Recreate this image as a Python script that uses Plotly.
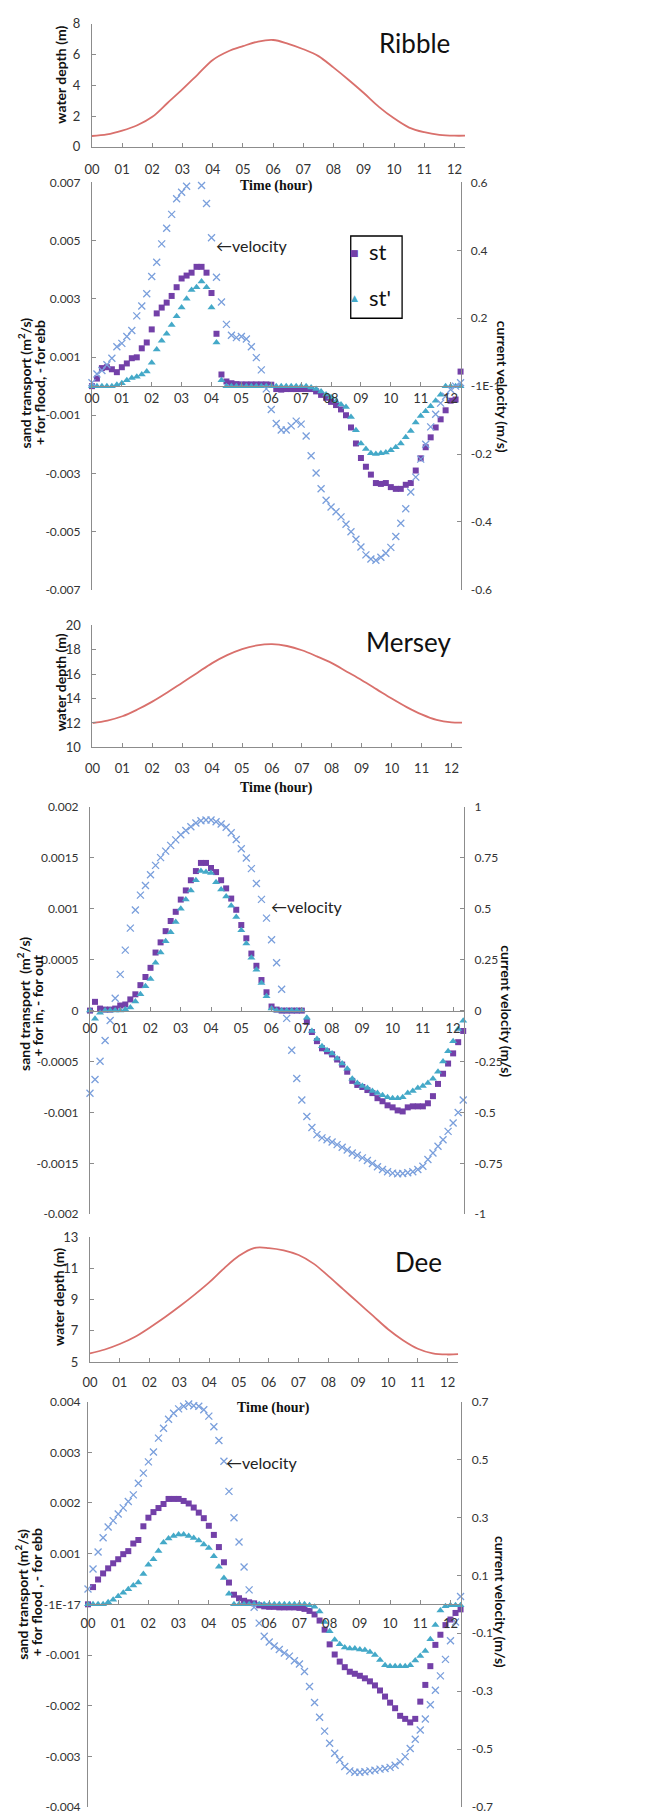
import plotly.graph_objects as go

W, H = 651, 1819

# ---------------- data ----------------
hours = [i / 6 for i in range(75)]          # 10-minute steps, 00:00 .. 12:20
depth_hours = [0, 0.5, 1, 1.5, 2, 2.5, 3, 3.5, 4, 4.5, 5, 5.5, 6, 6.5, 7, 7.5, 8,
               8.5, 9, 9.5, 10, 10.5, 11, 11.5, 12, 12.35]
hour_labels = ["00", "01", "02", "03", "04", "05", "06", "07", "08", "09", "10", "11", "12"]

ribble_depth = [0.7, 0.8, 1.05, 1.4, 1.95, 2.85, 3.75, 4.7, 5.65, 6.2, 6.55, 6.85, 6.95,
                6.7, 6.35, 5.9, 5.15, 4.35, 3.5, 2.6, 1.85, 1.25, 0.95, 0.78, 0.72, 0.72]
mersey_depth = [12.0, 12.2, 12.55, 13.1, 13.75, 14.5, 15.3, 16.1, 16.9, 17.55, 18.05, 18.35, 18.45,
                18.3, 17.95, 17.45, 16.9, 16.2, 15.5, 14.75, 14.0, 13.3, 12.7, 12.25, 12.05, 12.03]
dee_depth = [5.55, 5.8, 6.15, 6.6, 7.2, 7.85, 8.55, 9.3, 10.1, 11.0, 11.8, 12.3, 12.3,
             12.15, 11.85, 11.3, 10.5, 9.65, 8.8, 7.95, 7.1, 6.4, 5.85, 5.55, 5.48, 5.5]

ribble_st = [0, 0.00026, 0.00062, 0.00065, 0.00058, 0.00048, 0.00065, 0.00078, 0.00096, 0.00099,
             0.0013, 0.0015, 0.00195, 0.0025, 0.0027, 0.00287, 0.0031, 0.0034, 0.0037, 0.0038,
             0.0039, 0.0041, 0.0041, 0.0039, 0.0032, 0.0018, 0.0004, 0.00016, 0.0001, 0.00007,
             0.00006, 0.00006, 0.00006, 0.00006, 0.00006, 0.00006, 0.00005, -0.0001, -0.00012, -0.0001,
             -0.0001, -0.0001, -0.0001, -0.0001, -0.0001, -0.00018, -0.0003, -0.0004, -0.00054, -0.00065,
             -0.0008, -0.001, -0.00142, -0.00197, -0.00247, -0.00277, -0.00304, -0.00333, -0.00336, -0.00333,
             -0.00347, -0.00353, -0.00353, -0.00339, -0.00333, -0.0029, -0.00248, -0.0021, -0.00176, -0.00142,
             -0.00114, -0.00083, -0.0005, -0.00046, 0.0005]
ribble_st2 = [0, 0, 0, 0, 0, 0.00005, 0.0001, 0.0002, 0.00028, 0.00032,
              0.0004, 0.0005, 0.0008, 0.00126, 0.00156, 0.0018, 0.0021, 0.0024, 0.0027, 0.003,
              0.0033, 0.0034, 0.0036, 0.0034, 0.0027, 0.0015, 0.0002, 0, 0, 0,
              0, 0, 0, 0, 0, 0, 0, 0, 0, 0,
              0, 0, 0, 0, -0.00005, -0.0001, -0.00018, -0.00029, -0.00038, -0.00052,
              -0.00063, -0.00072, -0.00106, -0.00152, -0.00197, -0.00216, -0.00231, -0.00233, -0.00231, -0.00228,
              -0.0022, -0.0021, -0.00197, -0.00176, -0.00154, -0.00125, -0.00103, -0.00086, -0.00069, -0.0005,
              -0.0003, 0, 0, 0, 0]
ribble_vel = [0.01, 0.036, 0.046, 0.063, 0.082, 0.116, 0.126, 0.146, 0.164, 0.207,
              0.236, 0.272, 0.323, 0.365, 0.419, 0.465, 0.506, 0.552, 0.571, 0.589,
              None, None, 0.591, 0.538, 0.437, 0.321, 0.248, 0.182, 0.150, 0.143,
              0.146, 0.139, 0.116, 0.084, 0.048, -0.008, -0.069, -0.110, -0.129, -0.129,
              -0.117, -0.103, -0.112, -0.147, -0.205, -0.256, -0.302, -0.336, -0.356, -0.370,
              -0.385, -0.407, -0.429, -0.451, -0.474, -0.497, -0.509, -0.513, -0.504, -0.492,
              -0.475, -0.443, -0.404, -0.361, -0.312, -0.268, -0.215, -0.171, -0.120, -0.083,
              -0.05, -0.03, -0.01, 0.0, 0.01]

mersey_st = [0, 0.000086, 0.00002, 0.00001, 0.00001, 0.00002, 0.00005, 0.00006, 0.00011, 0.00016,
             0.00025, 0.00033, 0.00042, 0.00057, 0.00067, 0.00078, 0.00088, 0.00097, 0.00109, 0.00118,
             0.00128, 0.00137, 0.00145, 0.00145, 0.0014, 0.00136, 0.00128, 0.0012, 0.0011, 0.00099,
             0.00084, 0.00071, 0.00056, 0.00044, 0.0003, 0.00018, 0.00004, 0.00001, 0, 0,
             0, 0, 0, -0.00011, -0.00021, -0.0003, -0.00037, -0.0004, -0.00043, -0.00048,
             -0.00053, -0.0006, -0.00069, -0.00073, -0.00075, -0.00078, -0.00081, -0.00086, -0.00089, -0.00093,
             -0.00095, -0.00098, -0.00099, -0.00095, -0.00094, -0.00094, -0.00094, -0.00091, -0.00084, -0.00072,
             -0.00062, -0.00052, -0.00042, -0.00031, -0.0002]
mersey_st2 = [0, -0.00008, -0.00002, 0, 0, 0, 0, 0.00001, 0.00003, 0.00009,
              0.00016, 0.00024, 0.00031, 0.00047, 0.00057, 0.00068, 0.00077, 0.00087, 0.001, 0.00109,
              0.00118, 0.00128, 0.00137, 0.00136, 0.00135, 0.00126, 0.00119, 0.00112, 0.00103, 0.00092,
              0.00079, 0.00066, 0.00052, 0.0004, 0.00027, 0.00014, 0.00002, 0, 0, 0,
              0, 0, 0, -0.00007, -0.0002, -0.00028, -0.00035, -0.00039, -0.00042, -0.00047,
              -0.00052, -0.00057, -0.00067, -0.00071, -0.00074, -0.00076, -0.00079, -0.00081, -0.00083, -0.00085,
              -0.00086, -0.00086, -0.00085, -0.00081, -0.00079, -0.00076, -0.00074, -0.00071, -0.00067, -0.0006,
              -0.0005, -0.0004, -0.0003, -0.00018, -0.0001]
mersey_vel = [-0.406, -0.338, -0.249, -0.147, -0.049, 0.061, 0.178, 0.297, 0.405, 0.494,
              0.567, 0.614, 0.667, 0.713, 0.751, 0.783, 0.811, 0.838, 0.863, 0.884,
              0.903, 0.921, 0.932, 0.936, 0.936, 0.927, 0.916, 0.9, 0.873, 0.84,
              0.795, 0.749, 0.697, 0.624, 0.546, 0.454, 0.348, 0.235, 0.105, -0.038,
              -0.195, -0.333, -0.439, -0.52, -0.574, -0.609, -0.625, -0.634, -0.645, -0.658,
              -0.671, -0.684, -0.699, -0.71, -0.723, -0.736, -0.751, -0.767, -0.78, -0.791,
              -0.798, -0.801, -0.8, -0.796, -0.791, -0.78, -0.764, -0.731, -0.699, -0.666,
              -0.634, -0.593, -0.552, -0.5, -0.439]

dee_st = [0, 0.00034, 0.00049, 0.00061, 0.00071, 0.00081, 0.00089, 0.00099, 0.00105, 0.0012,
          0.00127, 0.00154, 0.00171, 0.00182, 0.0019, 0.00198, 0.00208, 0.00208, 0.00208, 0.00204,
          0.00199, 0.00191, 0.00181, 0.0017, 0.00155, 0.00137, 0.00113, 0.00083, 0.00043, 0.00019,
          0.00012, 0.00007, 0.00004, 0.00002, -0.00002, -0.00004, -0.00005, -0.00005, -0.00006, -0.00006,
          -0.00006, -0.00006, -0.00007, -0.00009, -0.00013, -0.0002, -0.00032, -0.0005, -0.00079, -0.00099,
          -0.00113, -0.00124, -0.00133, -0.00137, -0.00141, -0.00146, -0.00152, -0.0016, -0.0017, -0.00182,
          -0.00194, -0.00205, -0.0022, -0.00226, -0.00233, -0.00226, -0.00192, -0.00159, -0.00122, -0.0008,
          -0.0006, -0.00041, -0.0003, -0.00017, -0.0001]
dee_st2 = [0, 0, 0, 0, 0.00004, 0.00009, 0.00016, 0.00023, 0.0003, 0.00037,
           0.00043, 0.0006, 0.00078, 0.00089, 0.00105, 0.00122, 0.0013, 0.00135, 0.00138, 0.00138,
           0.00135, 0.00131, 0.00126, 0.00118, 0.00111, 0.00095, 0.00074, 0.00052, 0.00021, 0,
           0, 0, 0, 0, 0, 0, 0, 0, 0, 0,
           0, 0, 0, 0, -0.00002, -0.00005, -0.00014, -0.00035, -0.00053, -0.0007,
           -0.00079, -0.00085, -0.00087, -0.00087, -0.00089, -0.0009, -0.00094, -0.001, -0.0011, -0.0012,
           -0.00122, -0.00122, -0.00122, -0.00122, -0.0012, -0.00111, -0.00102, -0.00092, -0.00069, -0.00041,
           -0.00012, -0.00004, -0.00002, -0.00002, -0.00002]
dee_vel = [0.053, 0.122, 0.181, 0.23, 0.267, 0.289, 0.312, 0.333, 0.355, 0.378,
           0.418, 0.453, 0.492, 0.526, 0.574, 0.608, 0.639, 0.66, 0.675, 0.684,
           0.692, 0.686, 0.684, 0.672, 0.65, 0.613, 0.566, 0.494, 0.39, 0.299,
           0.215, 0.129, 0.05, -0.01, -0.065, -0.11, -0.13, -0.144, -0.156, -0.168,
           -0.179, -0.195, -0.206, -0.232, -0.284, -0.339, -0.39, -0.438, -0.48, -0.514,
           -0.537, -0.56, -0.575, -0.58, -0.58, -0.578, -0.575, -0.573, -0.569, -0.567,
           -0.563, -0.556, -0.544, -0.526, -0.498, -0.466, -0.434, -0.396, -0.347, -0.297,
           -0.247, -0.19, -0.126, -0.061, 0.027]

ribble_left_ticks = [0.007, 0.005, 0.003, 0.001, -0.001, -0.003, -0.005, -0.007]
ribble_left_text = ["0.007", "0.005", "0.003", "0.001", "-0.001", "-0.003", "-0.005", "-0.007"]
ribble_right_ticks = [0.6, 0.4, 0.2, 0, -0.2, -0.4, -0.6]
ribble_right_text = ["0.6", "0.4", "0.2", "-1E-1", "-0.2", "-0.4", "-0.6"]
mersey_left_ticks = [0.002, 0.0015, 0.001, 0.0005, 0, -0.0005, -0.001, -0.0015, -0.002]
mersey_left_text = ["0.002", "0.0015", "0.001", "0.0005", "0", "-0.0005", "-0.001", "-0.0015", "-0.002"]
mersey_right_ticks = [1, 0.75, 0.5, 0.25, 0, -0.25, -0.5, -0.75, -1]
mersey_right_text = ["1", "0.75", "0.5", "0.25", "0", "-0.25", "-0.5", "-0.75", "-1"]
dee_left_ticks = [0.004, 0.003, 0.002, 0.001, 0, -0.001, -0.002, -0.003, -0.004]
dee_left_text = ["0.004", "0.003", "0.002", "0.001", "-1E-17", "-0.001", "-0.002", "-0.003", "-0.004"]
dee_right_ticks = [0.7, 0.5, 0.3, 0.1, -0.1, -0.3, -0.5, -0.7]
dee_right_text = ["0.7", "0.5", "0.3", "0.1", "-0.1", "-0.3", "-0.5", "-0.7"]

legend_names = ["st", "st'"]

# ---------------- style ----------------
AX = "#8c8c8c"
TXT = "#333333"
DARK = "#111111"
DEPTH_C = "#d9706c"
ST_C = "#7340a8"
ST2_C = "#44a9c8"
VEL_C = "#7a9fdc"
SANS = "Lato, 'Open Sans', sans-serif"
SERIF = "'Liberation Serif', 'DejaVu Serif', serif"
TICKF = dict(family=SANS, size=12, color=TXT)


def fx(px):
    return px / W


def fy(py):
    return 1 - py / H


fig = go.Figure()


def xaxis(x0, x1, **kw):
    d = dict(domain=[fx(x0), fx(x1)], range=[0, 12.36], tickmode="array",
             tickvals=list(range(13)), ticktext=hour_labels, showline=True,
             linecolor=AX, linewidth=1, ticks="inside", ticklen=4, tickcolor=AX,
             showgrid=False, zeroline=False, tickfont=dict(family=SANS, size=13, color=TXT))
    d.update(kw)
    return d


def yaxis(y_top, y_bot, rng, tv, tt, **kw):
    d = dict(domain=[fy(y_bot), fy(y_top)], range=rng, tickmode="array",
             tickvals=tv, ticktext=tt, showline=True, linecolor=AX, linewidth=1,
             ticks="inside", ticklen=4, tickcolor=AX, showgrid=False,
             zeroline=False, tickfont=TICKF, ticklabelstandoff=8)
    d.update(kw)
    return d


layout = {}
# Panel 1: Ribble depth
layout["xaxis"] = xaxis(85, 463, anchor="y", ticklabelstandoff=11)
layout["yaxis"] = yaxis(16, 140, [0, 8], [0, 2, 4, 6, 8], ["0", "2", "4", "6", "8"], anchor="x",
                        tickfont=dict(family=SANS, size=13, color=TXT))
# Panel 2: Ribble transport
layout["xaxis2"] = xaxis(85, 459, anchor="free", position=fy(381.5), ticklabelstandoff=0)
layout["yaxis2"] = yaxis(176, 587, [-0.007, 0.007], ribble_left_ticks, ribble_left_text, anchor="x2")
layout["yaxis3"] = yaxis(176, 587, [-0.6, 0.6], ribble_right_ticks, ribble_right_text,
                         anchor="x2", overlaying="y2", side="right", ticklabelstandoff=6)
# Panel 3: Mersey depth
layout["xaxis3"] = xaxis(85.5, 460, anchor="y4", ticklabelstandoff=9)
layout["yaxis4"] = yaxis(622.7, 746, [10, 20], [10, 12, 14, 16, 18, 20],
                         ["10", "12", "14", "16", "18", "20"], anchor="x3",
                         tickfont=dict(family=SANS, size=13, color=TXT))
# Panel 4: Mersey transport
layout["xaxis4"] = xaxis(83, 461.7, anchor="free", position=fy(1011.5), ticklabelstandoff=6)
layout["yaxis5"] = yaxis(806, 1217, [-0.002, 0.002], mersey_left_ticks, mersey_left_text, anchor="x4")
layout["yaxis6"] = yaxis(806, 1217, [-1, 1], mersey_right_ticks, mersey_right_text,
                         anchor="x4", overlaying="y5", side="right", ticklabelstandoff=7)
# Panel 5: Dee depth
layout["xaxis5"] = xaxis(83, 456, anchor="y7", ticklabelstandoff=8)
layout["yaxis7"] = yaxis(1240, 1366, [5, 13], [5, 7, 9, 11, 13], ["5", "7", "9", "11", "13"], anchor="x5",
                         tickfont=dict(family=SANS, size=13, color=TXT))
# Panel 6: Dee transport
layout["xaxis6"] = xaxis(81, 459, anchor="free", position=fy(1610.5), ticklabelstandoff=7)
layout["yaxis8"] = yaxis(1406, 1815, [-0.004, 0.004], dee_left_ticks, dee_left_text, anchor="x6",
                         ticklabelstandoff=4)
layout["yaxis9"] = yaxis(1406, 1815, [-0.7, 0.7], dee_right_ticks, dee_right_text,
                         anchor="x6", overlaying="y8", side="right", ticklabelstandoff=7)


def depth_trace(y, xa, ya):
    fig.add_trace(go.Scatter(x=depth_hours, y=y, mode="lines", xaxis=xa, yaxis=ya,
                             line=dict(color=DEPTH_C, width=1.8, shape="spline"),
                             showlegend=False, hoverinfo="skip"))


def transport_traces(st, st2, vel, xa, ya_left, ya_right):
    fig.add_trace(go.Scatter(x=hours, y=st, mode="markers", name=legend_names[0], xaxis=xa, yaxis=ya_left,
                             marker=dict(symbol="square", size=6, color=ST_C),
                             showlegend=False, cliponaxis=False))
    fig.add_trace(go.Scatter(x=hours, y=st2, mode="markers", name=legend_names[1], xaxis=xa, yaxis=ya_left,
                             marker=dict(symbol="triangle-up", size=7, color=ST2_C),
                             showlegend=False, cliponaxis=False))
    fig.add_trace(go.Scatter(x=hours, y=vel, mode="markers", name="velocity", xaxis=xa, yaxis=ya_right,
                             marker=dict(symbol="x-thin", size=7, color=VEL_C,
                                         line=dict(width=1.3, color=VEL_C)),
                             showlegend=False, cliponaxis=False))


depth_trace(ribble_depth, "x", "y")
transport_traces(ribble_st, ribble_st2, ribble_vel, "x2", "y2", "y3")
depth_trace(mersey_depth, "x3", "y4")
transport_traces(mersey_st, mersey_st2, mersey_vel, "x4", "y5", "y6")
depth_trace(dee_depth, "x5", "y7")
transport_traces(dee_st, dee_st2, dee_vel, "x6", "y8", "y9")

ann = []


def text(s, x, y, size, family=SANS, bold=False, angle=0, xanchor="center", color=DARK):
    ann.append(dict(text=("<b>%s</b>" % s) if bold else s, x=fx(x), y=fy(y), xref="paper",
                    yref="paper", showarrow=False, textangle=angle, xanchor=xanchor,
                    yanchor="middle", font=dict(family=family, size=size, color=color)))


# panel titles
text("Ribble", 412, 35, 26)
text("Mersey", 406, 640, 26)
text("Dee", 416, 1265, 26)
# time axis titles
text("Time (hour)", 272, 180, 14, family=SERIF, bold=True)
text("Time (hour)", 272, 787, 14, family=SERIF, bold=True)
text("Time (hour)", 269, 1412, 14, family=SERIF, bold=True)
# depth axis titles
text("water depth (m)", 53, 67, 14, bold=True, angle=-90)
text("water depth (m)", 53, 680, 14, bold=True, angle=-90)
text("water depth (m)", 51, 1300, 14, bold=True, angle=-90)
# transport axis titles
text("sand transport (m<sup>2</sup>/s)", 17, 378, 14, bold=True, angle=-90)
text("+ for flood, - for ebb", 32, 378, 14, bold=True, angle=-90)
text("sand transport  (m<sup>2</sup>/s)", 15, 1005, 14, bold=True, angle=-90)
text("+ for in, - for out", 30, 1006, 14, bold=True, angle=-90)
text("sand transport (m<sup>2</sup>/s)", 14, 1600, 14, bold=True, angle=-90)
text("+ for flood , - for ebb", 29, 1598, 14, bold=True, angle=-90)
text("current velocity (m/s)", 501, 382, 14, bold=True, angle=90)
text("current velocity (m/s)", 505, 1012, 14, bold=True, angle=90)
text("current velocity (m/s)", 498, 1608, 14, bold=True, angle=90)
# velocity callouts
text("\u2190velocity", 209, 240, 16, xanchor="left", color="#222222")
text("\u2190velocity", 264, 906, 16, xanchor="left", color="#222222")
text("\u2190velocity", 219, 1467, 16, xanchor="left", color="#222222")
# legend (Ribble panel)
text("\u25A0", 351, 247, 9, family="DejaVu Sans", color=ST_C)
text("\u25B2", 351, 293, 9, family="DejaVu Sans", color=ST2_C)
text(legend_names[0], 363, 246, 22, xanchor="left")
text(legend_names[1], 363, 292, 22, xanchor="left")

fig.update_layout(
    width=W, height=H, margin=dict(l=0, r=0, t=0, b=0),
    paper_bgcolor="white", plot_bgcolor="white",
    annotations=ann, showlegend=False,
    **layout,
)
fig.add_shape(type="rect", xref="paper", yref="paper", x0=fx(347), x1=fx(399),
              y0=fy(313), y1=fy(230), line=dict(color="#000000", width=1.3))

fig.write_html("out.html", config={"displayModeBar": False},
               post_script="document.body.style.margin='0';")
